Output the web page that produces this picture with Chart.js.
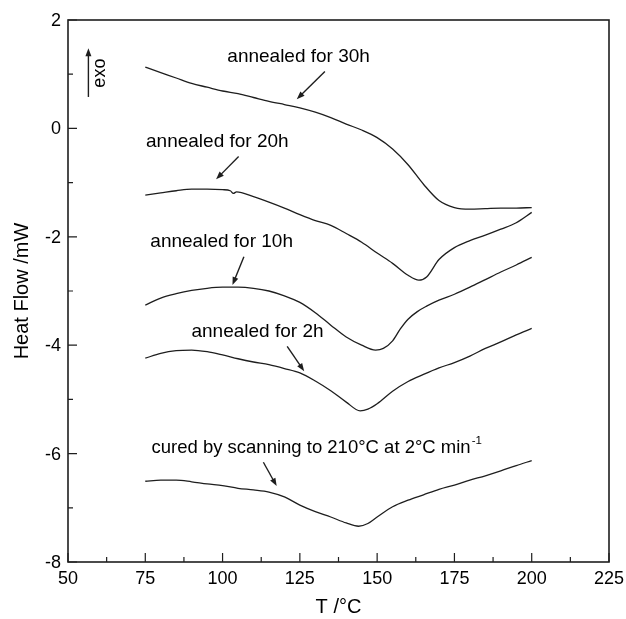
<!DOCTYPE html>
<html>
<head>
<meta charset="utf-8">
<title>DSC heat flow</title>
<script src="https://cdn.jsdelivr.net/npm/chart.js@4.4.1/dist/chart.umd.min.js"></script>
<style>
  html, body { margin: 0; padding: 0; background: #fff; }
  #wrap { width: 626px; height: 619px; }
</style>
</head>
<body>
<div id="wrap"><canvas id="dscChart" width="626" height="619"></canvas></div>
<script>
// temperature (°C) / heat flow (mW) along each DSC trace
let t30h  = [75, 80, 85, 90, 95, 100, 105, 110, 115, 120, 125, 130, 135, 140, 145, 150, 155, 160, 165, 170, 175, 180, 185, 190, 195, 200];
let hf30h = [1.13, 1.03, 0.93, 0.83, 0.76, 0.69, 0.64, 0.57, 0.50, 0.44, 0.38, 0.30, 0.20, 0.08, -0.03, -0.17, -0.38, -0.67, -1.03, -1.33, -1.46, -1.49, -1.48, -1.47, -1.47, -1.46];

let t20h  = [75, 80, 85, 90, 95, 100, 102.5, 103.5, 104.5, 110, 115, 120, 125, 130, 135, 140, 145, 150, 155, 160, 163.5, 166, 170, 175, 180, 185, 190, 195, 200];
let hf20h = [-1.23, -1.19, -1.15, -1.12, -1.12, -1.13, -1.15, -1.20, -1.17, -1.26, -1.36, -1.47, -1.59, -1.70, -1.79, -1.94, -2.10, -2.30, -2.49, -2.71, -2.80, -2.74, -2.42, -2.20, -2.07, -1.97, -1.86, -1.74, -1.55];

let t10h  = [75, 80, 85, 90, 95, 100, 105, 110, 115, 120, 125, 130, 135, 140, 145, 149.5, 152, 155, 157.5, 160, 163, 166, 170, 175, 180, 185, 190, 195, 200];
let hf10h = [-3.26, -3.13, -3.05, -2.99, -2.95, -2.93, -2.93, -2.95, -3.00, -3.09, -3.21, -3.40, -3.63, -3.85, -4.00, -4.09, -4.06, -3.92, -3.70, -3.52, -3.38, -3.28, -3.17, -3.06, -2.93, -2.79, -2.65, -2.52, -2.38];

let t2h  = [75, 80, 85, 90, 95, 100, 105, 110, 115, 120, 125, 130, 135, 140, 144.5, 147, 150, 155, 160, 165, 170, 175, 180, 185, 190, 195, 200];
let hf2h = [-4.24, -4.15, -4.10, -4.09, -4.12, -4.18, -4.25, -4.31, -4.36, -4.43, -4.51, -4.66, -4.84, -5.05, -5.21, -5.18, -5.08, -4.85, -4.67, -4.54, -4.42, -4.32, -4.20, -4.06, -3.94, -3.81, -3.69];

let tCured  = [75, 80, 85, 90, 95, 100, 105, 110, 115, 120, 125, 130, 135, 140, 144, 147, 150, 155, 160, 165, 170, 175, 180, 185, 190, 195, 200];
let hfCured = [-6.51, -6.49, -6.49, -6.52, -6.56, -6.59, -6.64, -6.67, -6.71, -6.80, -6.95, -7.07, -7.17, -7.28, -7.34, -7.29, -7.17, -6.98, -6.86, -6.76, -6.66, -6.58, -6.49, -6.41, -6.32, -6.22, -6.13];

let xTicks = [50, 75, 100, 125, 150, 175, 200, 225];
let yTicks = [2, 0, -2, -4, -6, -8];

// labels with their arrows, in data units (T, heat flow)
let notes = [
  { text: "annealed for 30h", x: 124.6, y: 1.32, from: [133.1, 1.05], to: [124.0, 0.54] },
  { text: "annealed for 20h", x: 98.3, y: -0.25, from: [105.2, -0.52], to: [97.9, -0.94] },
  { text: "annealed for 10h", x: 99.7, y: -2.10, from: [106.9, -2.37], to: [103.2, -2.89] },
  { text: "annealed for 2h", x: 111.3, y: -3.75, from: [120.9, -4.02], to: [126.4, -4.48] },
  { text: "cured by scanning to 210°C at 2°C min", sup: "-1", x: 77.0, y: -5.90, align: "left", size: 18.5, from: [113.2, -6.16], to: [117.5, -6.60] }
];
let exoArrow = { from: [56.6, 0.58], to: [56.6, 1.48], textX: 60.3, textY: 1.02 };

const FONT = '"Liberation Sans", Arial, Helvetica, sans-serif';
const INK = '#1e1e1e';
Chart.defaults.font.family = FONT;
Chart.defaults.color = '#000';

function toPoints(ts, hs) {
  return ts.map((t, i) => ({ x: t, y: hs[i] }));
}

function trace(ts, hs) {
  return {
    data: toPoints(ts, hs),
    showLine: true,
    borderColor: INK,
    borderWidth: 1.3,
    pointRadius: 0,
    tension: 0.4,
    cubicInterpolationMode: 'monotone',
    fill: false
  };
}

function arrow(ctx, x1, y1, x2, y2) {
  let ang = Math.atan2(y2 - y1, x2 - x1);
  let head = 8, half = 3;
  ctx.beginPath();
  ctx.moveTo(x1, y1);
  ctx.lineTo(x2 - Math.cos(ang) * head * 0.7, y2 - Math.sin(ang) * head * 0.7);
  ctx.stroke();
  ctx.beginPath();
  ctx.moveTo(x2, y2);
  ctx.lineTo(x2 - Math.cos(ang) * head - Math.sin(ang) * half, y2 - Math.sin(ang) * head + Math.cos(ang) * half);
  ctx.lineTo(x2 - Math.cos(ang) * head + Math.sin(ang) * half, y2 - Math.sin(ang) * head - Math.cos(ang) * half);
  ctx.closePath();
  ctx.fill();
}

// frame, inward tick marks, tick labels, notes and arrows
const decorations = {
  id: 'decorations',
  afterDatasetsDraw(chart) {
    const ctx = chart.ctx;
    const xs = chart.scales.x, ys = chart.scales.y;
    const a = chart.chartArea;
    ctx.save();
    ctx.strokeStyle = INK;
    ctx.fillStyle = INK;
    ctx.lineWidth = 1.6;
    ctx.strokeRect(a.left, a.top, a.right - a.left, a.bottom - a.top);

    ctx.lineWidth = 1.2;
    ctx.beginPath();
    for (let i = 0; i < xTicks.length; i++) {
      let px = xs.getPixelForValue(xTicks[i]);
      ctx.moveTo(px, a.bottom); ctx.lineTo(px, a.bottom - 9);
      if (i < xTicks.length - 1) {
        let mx = xs.getPixelForValue((xTicks[i] + xTicks[i + 1]) / 2);
        ctx.moveTo(mx, a.bottom); ctx.lineTo(mx, a.bottom - 5);
      }
    }
    for (let j = 0; j < yTicks.length; j++) {
      let py = ys.getPixelForValue(yTicks[j]);
      ctx.moveTo(a.left, py); ctx.lineTo(a.left + 9, py);
      if (j < yTicks.length - 1) {
        let my = ys.getPixelForValue((yTicks[j] + yTicks[j + 1]) / 2);
        ctx.moveTo(a.left, my); ctx.lineTo(a.left + 5, my);
      }
    }
    ctx.stroke();

    // tick labels
    ctx.fillStyle = '#000';
    ctx.font = '18px ' + FONT;
    ctx.textBaseline = 'middle';
    ctx.textAlign = 'center';
    xTicks.forEach(v => ctx.fillText(String(v), xs.getPixelForValue(v), a.bottom + 17));
    ctx.textAlign = 'right';
    yTicks.forEach(v => ctx.fillText(String(v), a.left - 7, ys.getPixelForValue(v) + 1));

    ctx.lineWidth = 1.4;
    notes.forEach(n => {
      let size = n.size || 19;
      ctx.fillStyle = '#000';
      ctx.font = size + 'px ' + FONT;
      ctx.textAlign = n.align || 'center';
      let px = xs.getPixelForValue(n.x), py = ys.getPixelForValue(n.y);
      ctx.fillText(n.text, px, py);
      if (n.sup) {
        let w = ctx.measureText(n.text).width;
        ctx.font = (size * 0.62) + 'px ' + FONT;
        ctx.textAlign = 'left';
        ctx.fillText(n.sup, px + w + 1, py - size * 0.38);
      }
      ctx.fillStyle = INK;
      arrow(ctx, xs.getPixelForValue(n.from[0]), ys.getPixelForValue(n.from[1]),
                 xs.getPixelForValue(n.to[0]), ys.getPixelForValue(n.to[1]));
    });

    ctx.fillStyle = INK;
    arrow(ctx, xs.getPixelForValue(exoArrow.from[0]), ys.getPixelForValue(exoArrow.from[1]),
               xs.getPixelForValue(exoArrow.to[0]), ys.getPixelForValue(exoArrow.to[1]));
    ctx.fillStyle = '#000';
    ctx.save();
    ctx.translate(xs.getPixelForValue(exoArrow.textX), ys.getPixelForValue(exoArrow.textY));
    ctx.rotate(-Math.PI / 2);
    ctx.font = '18px ' + FONT;
    ctx.textAlign = 'center';
    ctx.fillText('exo', 0, 0);
    ctx.restore();
    ctx.restore();
  }
};

new Chart(document.getElementById('dscChart'), {
  type: 'scatter',
  data: {
    datasets: [
      trace(t30h, hf30h),
      trace(t20h, hf20h),
      trace(t10h, hf10h),
      trace(t2h, hf2h),
      trace(tCured, hfCured)
    ]
  },
  options: {
    responsive: false,
    animation: false,
    layout: { padding: { left: 0, top: 20, right: 17, bottom: 0 } },
    plugins: {
      legend: { display: false },
      tooltip: { enabled: false }
    },
    scales: {
      x: {
        type: 'linear',
        min: 50, max: 225,
        afterBuildTicks: s => { s.ticks = xTicks.map(v => ({ value: v })); },
        afterFit: s => { s.height = 57; },
        grid: { display: false },
        border: { display: false },
        ticks: { display: false },
        title: { display: true, text: 'T /°C', font: { size: 20 }, color: '#000', padding: { top: 0, bottom: 0 } }
      },
      y: {
        type: 'linear',
        min: -8, max: 2,
        afterBuildTicks: s => { s.ticks = yTicks.map(v => ({ value: v })); },
        afterFit: s => { s.width = 68; },
        grid: { display: false },
        border: { display: false },
        ticks: { display: false },
        title: { display: true, text: 'Heat Flow /mW', font: { size: 20 }, color: '#000', padding: { top: 10, bottom: 0 } }
      }
    }
  },
  plugins: [decorations]
});
</script>
</body>
</html>
